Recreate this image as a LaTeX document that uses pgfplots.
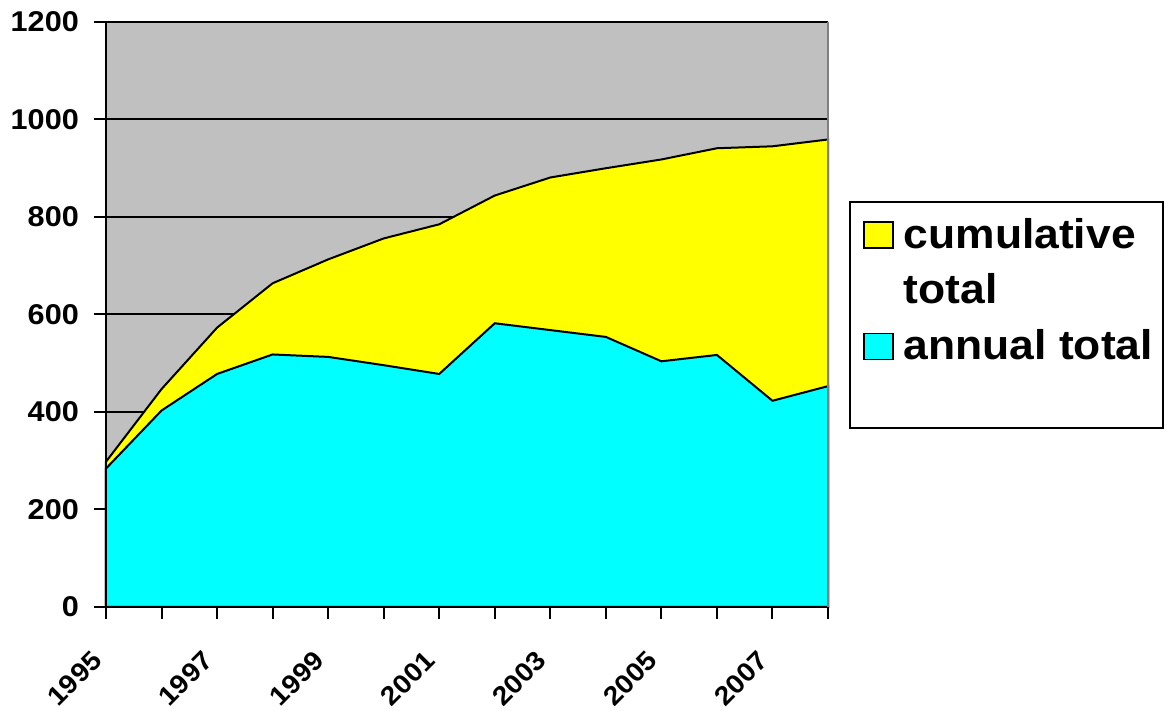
\documentclass[border=0pt]{standalone}
\usepackage{fontspec}
\setmainfont[FakeStretch=1.07]{Liberation Sans}
\usepackage{pgfplots}
\pgfplotsset{compat=1.18}
\pgfplotsset{sqleg/.style={legend image code/.code={\draw[##1, line width=1.5pt] (0pt,0pt) rectangle (29pt,26pt);}}}
\definecolor{bg}{RGB}{192,192,192}
\definecolor{yel}{RGB}{255,255,0}
\definecolor{cya}{RGB}{0,255,255}
\begin{document}
\begin{tikzpicture}[x=1pt,y=1pt]
\path[use as bounding box] (0,0) rectangle (1165,711);
\begin{axis}[
  at={(106pt,104pt)}, anchor=south west,
  scale only axis, width=722pt, height=585pt,
  xmin=0, xmax=13, ymin=0, ymax=1200, clip=false,
  axis x line*=bottom, axis y line*=left,
  axis line style={line width=2pt, black, -},
  ytick={0,200,...,1200}, xtick={0,2,...,12},
  xticklabels={1995,1997,1999,2001,2003,2005,2007},
  extra x ticks={1,3,...,13}, extra x tick labels={},
  extra x tick style={tick align=outside, major tick length=12pt},
  tick align=outside, major tick length=12pt,
  tick style={line width=2pt, black},
  ymajorgrids, grid style={line width=2pt, black},
  axis background/.style={fill=bg},
  /pgf/number format/assume math mode=true,
  /pgf/number format/1000 sep={},
  yticklabel style={font=\fontsize{28.6}{30}\selectfont\bfseries, anchor=east, inner sep=0pt, xshift=-15pt},
  xticklabel style={font=\fontsize{26.5}{30}\selectfont\bfseries, inner sep=0pt, xshift=-9pt, yshift=-37pt, rotate=45, anchor=east},
  legend style={draw=none, fill=none, at={(1.0485,0.665)}, anchor=north west, inner sep=0pt,
    font=\fontsize{41.5}{53.7}\selectfont\bfseries, nodes={inner sep=0pt}, cells={anchor=base west}, column sep=10pt, row sep=24pt},
]
\addplot[draw=black, line width=2pt, fill=yel, sqleg] coordinates {
(0,298) (1,447) (2,573) (3,664) (4,713) (5,756) (6,785) (7,844) (8,881) (9,900) (10,918) (11,941) (12,945) (13,959)
} \closedcycle;
\addlegendentry{cumulative}
\addlegendimage{empty legend}
\addlegendentry{total\rule[-11pt]{0pt}{11pt}}
\addplot[draw=black, line width=2pt, fill=cya, sqleg] coordinates {
(0,284) (1,403) (2,478) (3,518) (4,513) (5,496) (6,478) (7,582) (8,568) (9,554) (10,504) (11,517) (12,423) (13,453)
} \closedcycle;
\addlegendentry{annual total}
\draw[gray, line width=1.5pt] (rel axis cs:1,0) -- (rel axis cs:1,1);
\draw[black, line width=1.5pt] (rel axis cs:1.0305,0.6923) rectangle (rel axis cs:1.464,0.306);
\end{axis}
\end{tikzpicture}
\end{document}
